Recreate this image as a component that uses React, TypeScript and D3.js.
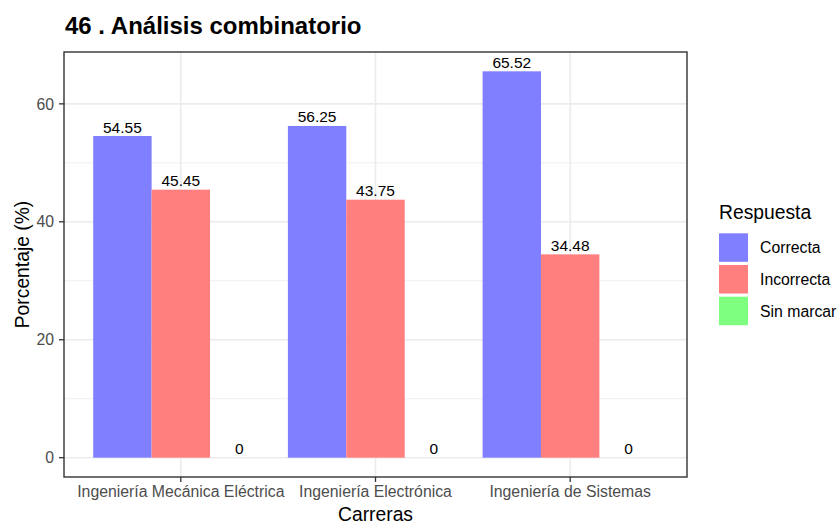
import React from "react";
import * as d3 from "d3";

const categories = ["Ingeniería Mecánica Eléctrica", "Ingeniería Electrónica", "Ingeniería de Sistemas"];
const responses = ["Correcta", "Incorrecta", "Sin marcar"];
const correcta = [54.55, 56.25, 65.52];
const incorrecta = [45.45, 43.75, 34.48];
const sinMarcar = [0, 0, 0];
const yTicks = [0, 20, 40, 60];
const yMinor = [10, 30, 50];
const colors = ["#7F7FFF", "#FF7F7F", "#7FFF7F"];

const W = 838, H = 525;
const panel = { left: 64, top: 52, right: 687, bottom: 477 };
const FONT = "'Liberation Sans', Arial, Helvetica, sans-serif";

export default function App() {
  const series = [correcta, incorrecta, sinMarcar];
  const maxV = d3.max(series.flat()) as number;
  const y = d3.scaleLinear().domain([-maxV * 0.05, maxV * 1.05]).range([panel.bottom, panel.top]);
  const x = d3.scaleLinear().domain([0.4, categories.length + 0.6]).range([panel.left, panel.right]);
  const bw = 0.3;
  const bars: any[] = [];
  categories.forEach((c, i) => {
    series.forEach((s, j) => {
      const x0 = i + 1 - 0.45 + j * bw;
      bars.push({ c, j, v: s[i], x0: x(x0), x1: x(x0 + bw) });
    });
  });
  return (
    <svg width={W} height={H} style={{ position: "absolute", left: 0, top: 0, background: "#fff" }} fontFamily={FONT}>
      <text x={65} y={34} fontSize={24} fontWeight="bold" fill="#000">46 . Análisis combinatorio</text>
      {/* grid */}
      {yMinor.map(t => (
        <line key={"mn" + t} x1={panel.left} x2={panel.right} y1={y(t)} y2={y(t)} stroke="#ebebeb" strokeWidth={0.8} />
      ))}
      {yTicks.map(t => (
        <line key={"mj" + t} x1={panel.left} x2={panel.right} y1={y(t)} y2={y(t)} stroke="#ebebeb" strokeWidth={1.6} />
      ))}
      {categories.map((c, i) => (
        <line key={"vx" + i} x1={x(i + 1)} x2={x(i + 1)} y1={panel.top} y2={panel.bottom} stroke="#ebebeb" strokeWidth={1.6} />
      ))}
      {bars.map((b, k) => (
        <rect key={"b" + k} x={b.x0} width={b.x1 - b.x0} y={y(Math.max(b.v, 0))} height={Math.abs(y(0) - y(b.v))} fill={colors[b.j]} />
      ))}
      {bars.map((b, k) => (
        <text key={"t" + k} x={(b.x0 + b.x1) / 2} y={y(b.v) - 3.5} textAnchor="middle" fontSize={15.5} fill="#000">
          {String(b.v)}
        </text>
      ))}
      <rect x={panel.left} y={panel.top} width={panel.right - panel.left} height={panel.bottom - panel.top} fill="none" stroke="#333" strokeWidth={1.4} />
      {/* y axis */}
      {yTicks.map(t => (
        <g key={"yt" + t}>
          <line x1={panel.left - 5} x2={panel.left} y1={y(t)} y2={y(t)} stroke="#333" strokeWidth={1.3} />
          <text x={panel.left - 10} y={y(t)} dy="0.36em" textAnchor="end" fontSize={15.8} fill="#4d4d4d">{t}</text>
        </g>
      ))}
      {categories.map((c, i) => (
        <g key={"xt" + i}>
          <line x1={x(i + 1)} x2={x(i + 1)} y1={panel.bottom} y2={panel.bottom + 5} stroke="#333" strokeWidth={1.3} />
          <text x={x(i + 1)} y={panel.bottom + 19.5} textAnchor="middle" fontSize={15.8} fill="#4d4d4d">{c}</text>
        </g>
      ))}
      <text x={(panel.left + panel.right) / 2} y={521} textAnchor="middle" fontSize={19.3} fill="#000">Carreras</text>
      <text transform={`translate(29,${(panel.top + panel.bottom) / 2}) rotate(-90)`} textAnchor="middle" fontSize={19.3} fill="#000">Porcentaje (%)</text>
      {/* legend */}
      <text x={719} y={219} fontSize={19.3} fill="#000">Respuesta</text>
      {responses.map((r, j) => (
        <g key={"lg" + j}>
          <rect x={719} y={233.3 + j * 31.7} width={29} height={28.5} fill={colors[j]} />
          <text x={760} y={233.3 + j * 31.7 + 14.2} dy="0.36em" fontSize={15.8} fill="#000">{r}</text>
        </g>
      ))}
    </svg>
  );
}
